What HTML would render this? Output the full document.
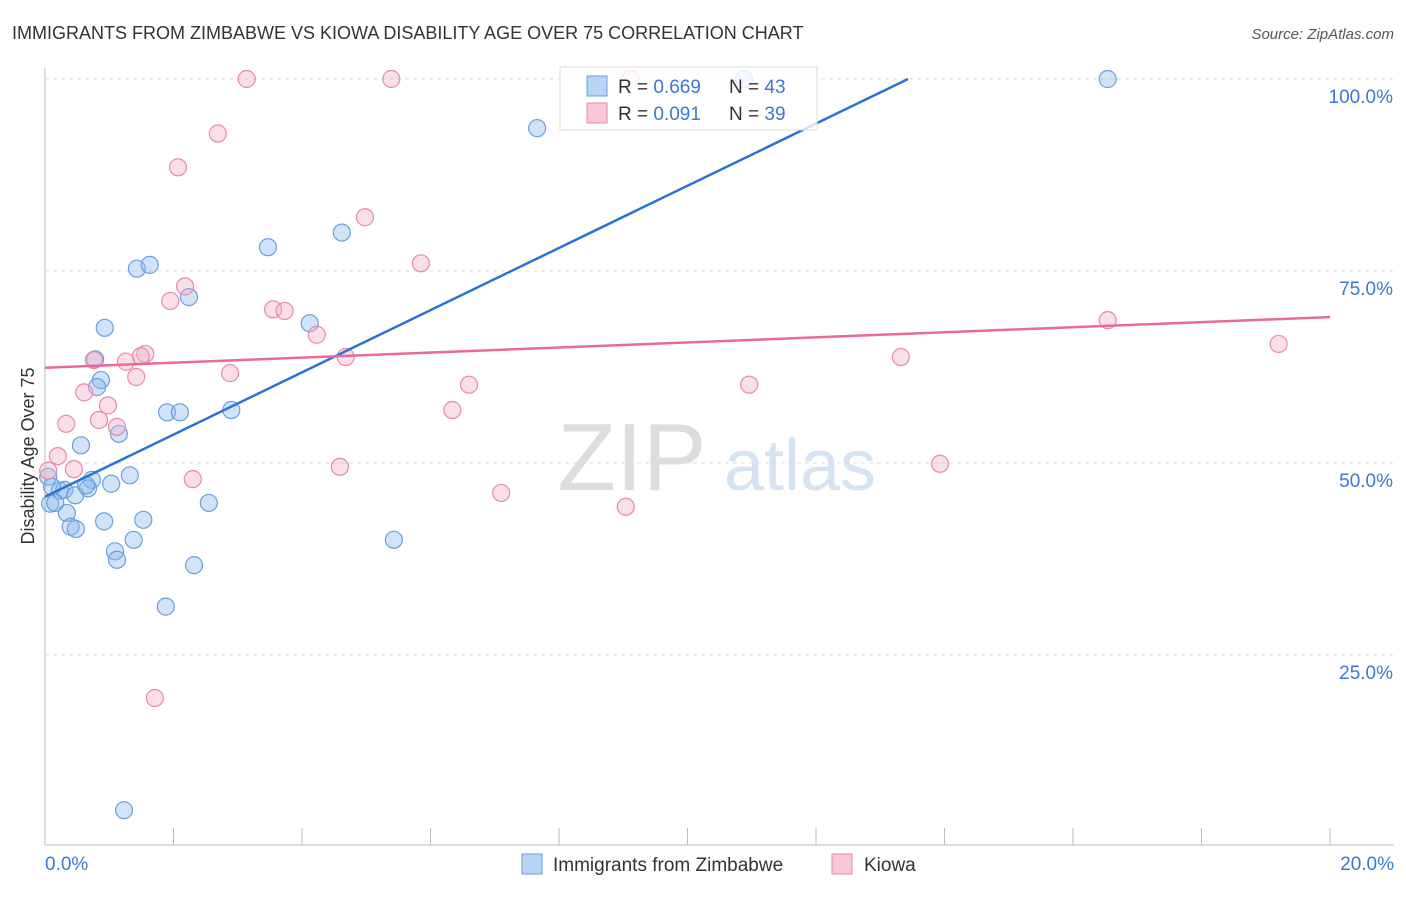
<!DOCTYPE html>
<html><head><meta charset="utf-8"><style>
body{margin:0;background:#fff;font-family:"Liberation Sans",sans-serif}
svg text{font-family:"Liberation Sans",sans-serif}
</style></head><body>
<svg id="c" width="1406" height="892">
<text x="12" y="39" font-size="18" fill="#333">IMMIGRANTS FROM ZIMBABWE VS KIOWA DISABILITY AGE OVER 75 CORRELATION CHART</text>
<text x="1394" y="39" font-size="15" fill="#555" text-anchor="end" font-style="italic">Source: ZipAtlas.com</text>
<text x="632" y="490" font-size="96" fill="#ddd" font-family="Liberation Serif" text-anchor="middle">ZIP</text>
<text x="800" y="490" font-size="72" fill="#d6e3f3" text-anchor="middle">atlas</text>
<text transform="translate(34,456) rotate(-90)" font-size="18" fill="#333" text-anchor="middle">Disability Age Over 75</text>
<g id="grid"></g><g id="pts"></g><g id="lines"></g>
<g>
<rect x="560" y="67" width="257" height="63" fill="rgba(255,255,255,0.8)" stroke="#ddd"/>
<rect x="587" y="76" width="20" height="20" fill="#b8d4f5" stroke="#6a9fdc"/>
<rect x="587" y="103" width="20" height="20" fill="#f9c7d6" stroke="#e88aa8"/>
<text x="618" y="93" font-size="19" fill="#333">R = <tspan fill="#3a78d4">0.669</tspan></text>
<text x="729" y="93" font-size="19" fill="#333">N = <tspan fill="#3a78d4">43</tspan></text>
<text x="618" y="120" font-size="19" fill="#333">R = <tspan fill="#3a78d4">0.091</tspan></text>
<text x="729" y="120" font-size="19" fill="#333">N = <tspan fill="#3a78d4">39</tspan></text>
</g>
<g>
<rect x="522" y="854" width="20" height="20" fill="#b8d4f5" stroke="#6a9fdc"/>
<text x="553" y="871" font-size="19" fill="#333">Immigrants from Zimbabwe</text>
<rect x="832" y="854" width="20" height="20" fill="#f9c7d6" stroke="#e88aa8"/>
<text x="864" y="871" font-size="19" fill="#333">Kiowa</text>
</g>
</svg>
<script>
const blueX=[10.88,16.54,7.66,3.47,4.62,1.43,1.63,2.24,0.93,4.12,0.78,0.87,0.81,1.9,2.1,2.9,1.15,0.56,1.32,0.73,1.03,0.67,0.23,0.3,0.47,0.08,0.16,0.34,0.4,0.48,0.92,1.53,2.55,1.38,1.09,1.12,2.32,5.43,1.88,1.23,0.05,0.11,0.64];
const blueY=[100,100,93.6,78.1,80,75.3,75.8,71.6,67.6,68.2,63.5,60.8,59.9,56.6,56.6,56.9,53.8,52.3,48.4,47.8,47.3,46.7,46.4,46.5,45.8,44.7,44.8,43.5,41.7,41.4,42.4,42.6,44.8,40,38.5,37.4,36.7,40,31.3,4.8,48.2,46.9,47.1];
const pinkX=[3.14,5.39,9.11,2.69,2.07,4.98,5.85,2.18,1.95,3.55,3.73,4.23,16.54,19.2,1.56,1.49,0.76,1.26,4.68,13.32,1.42,2.88,6.6,10.96,0.61,0.98,6.34,0.84,0.33,1.12,0.2,0.45,13.93,4.59,2.3,7.1,9.04,1.71,0.05];
const pinkY=[100,100,100,92.9,88.5,82,76,73,71.1,70,69.8,66.7,68.6,65.5,64.2,63.9,63.4,63.2,63.8,63.8,61.2,61.7,60.2,60.2,59.2,57.5,56.9,55.6,55.1,54.7,50.9,49.2,49.9,49.5,47.9,46.1,44.3,19.4,49];
const yTicks=[25,50,75,100];
const blueLine=[45.6,126.6];const pinkLine=[62.4,69.0];
const NS='http://www.w3.org/2000/svg';
const sx=v=>45+v/20*1285, sy=v=>847-v/100*768;
function mk(t,a,p){const e=document.createElementNS(NS,t);for(const k in a)e.setAttribute(k,a[k]);p.appendChild(e);return e;}
const g=document.getElementById('grid');
const ya=mk('line',{x1:45,y1:68,x2:45,y2:845,stroke:'#bbb'},g);


const xa=mk('line',{x1:45,y1:845,x2:1394,y2:845,stroke:'#bbb'},g);


for(let i=0;i<=10;i++){const t=mk('line',{x1:sx(i*2),x2:sx(i*2),y1:828,y2:845,stroke:'#bbb'},g);

}
yTicks.forEach(v=>{const l=mk('line',{x1:45,x2:1394,y1:sy(v),y2:sy(v),stroke:'#ddd','stroke-dasharray':'4,4'},g);


const t=mk('text',{x:1393,y:sy(v)+24,'font-size':19,fill:'#3a78d4','text-anchor':'end'},g);t.textContent=v.toFixed(1)+'%';

});
const x0=mk('text',{x:45,y:870,'font-size':19,fill:'#3a78d4'},g);x0.textContent='0.0%';


const x1=mk('text',{x:1394,y:870,'font-size':19,fill:'#3a78d4','text-anchor':'end'},g);x1.textContent='20.0%';


const p=document.getElementById('pts');
blueX.forEach((x,i)=>{const c=mk('circle',{cx:sx(x),cy:sy(blueY[i]),r:8.5,fill:'rgba(140,184,238,0.4)',stroke:'#6a9fdc','stroke-width':1.2},p);

});
pinkX.forEach((x,i)=>{const c=mk('circle',{cx:sx(x),cy:sy(pinkY[i]),r:8.5,fill:'rgba(246,176,198,0.4)',stroke:'#e88aa8','stroke-width':1.2},p);

});
const L=document.getElementById('lines');
const bx=(100-blueLine[0])/((blueLine[1]-blueLine[0])/20);
const bl=mk('line',{x1:sx(0),y1:sy(blueLine[0]),x2:sx(bx),y2:sy(100),stroke:'#2a72d6','stroke-width':2.5},L);


const pl=mk('line',{x1:sx(0),y1:sy(pinkLine[0]),x2:sx(20),y2:sy(pinkLine[1]),stroke:'#e8699a','stroke-width':2.5},L);


</script>
</body></html>
